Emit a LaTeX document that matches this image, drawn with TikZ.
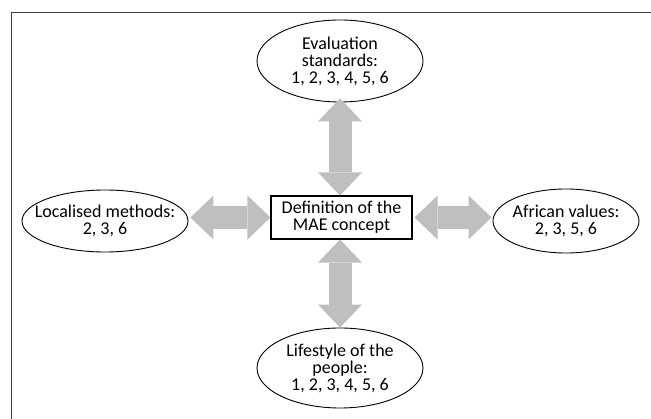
\documentclass[tikz,border=0pt]{standalone}
\usepackage{fontspec}
\setmainfont{Carlito}
\usetikzlibrary{shapes.geometric,arrows.meta}
\definecolor{arrowgray}{RGB}{191,191,191}
\definecolor{framegray}{RGB}{64,64,64}
\begin{document}
\begin{tikzpicture}[x=1pt,y=-1pt,
  every node/.style={inner sep=0pt},
  every label/.style={align=center,inner sep=0pt,font=\fontsize{18}{17}\selectfont},
  oval/.style={draw,ellipse,line width=0.9pt},
  fat/.style={color=arrowgray,line width=23pt,
    {Triangle[width=44pt,length=23pt,line width=0pt]}-{Triangle[width=44pt,length=23pt,line width=0pt]}}]
\useasboundingbox (0,0) rectangle (651,419);
\draw[framegray,line width=1.2pt] (651,12.7) -- (11.7,12.7) -- (11.7,419);
% centre and the four themes
\node[draw,line width=1.1pt,minimum width=141pt,minimum height=43pt,align=center,
  font=\fontsize{18}{17}\selectfont] (concept) at (341.5,217.5) {Definition of the\\MAE concept};
\node[oval,minimum width=166pt,minimum height=82pt,
  label={center:{Evaluation\\standards:\\1, 2, 3, 4, 5, 6}}] (evalstd) at (340,61) {};
\node[oval,minimum width=166pt,minimum height=80pt,
  label={center:{Lifestyle of the\\people:\\1, 2, 3, 4, 5, 6}}] (lifestyle) at (340,368) {};
\node[oval,minimum width=166pt,minimum height=62pt,
  label={center:{Localised methods:\\2, 3, 6}}] (localised) at (105,221) {};
\node[oval,minimum width=146pt,minimum height=64pt,
  label={center:{African values:\\2, 3, 5, 6}}] (african) at (566,221) {};
% fat double arrows
\draw[fat] ([yshift=4pt]evalstd.south) -- (evalstd.south |- concept.north);
\draw[fat] (concept.south -| lifestyle.north) -- (lifestyle.north);
\draw[fat] ([xshift=2pt]localised.east |- concept.west) -- (concept.west);
\draw[fat] ([xshift=2pt]concept.east) -- ([xshift=-1pt]african.west |- concept.east);
\end{tikzpicture}
\end{document}
